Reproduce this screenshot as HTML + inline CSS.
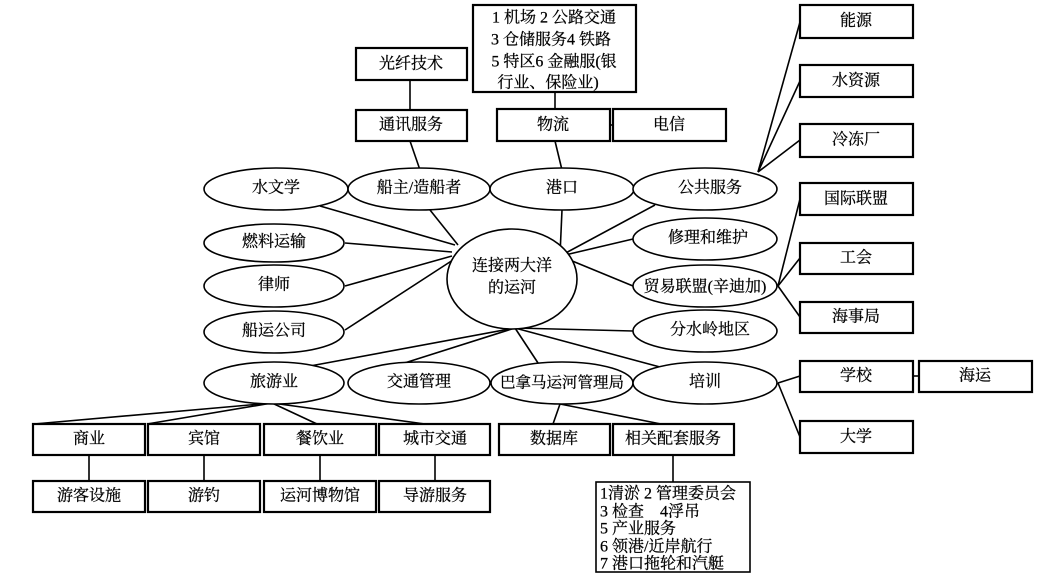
<!DOCTYPE html>
<html><head><meta charset="utf-8"><style>
html,body{margin:0;padding:0;background:#fff;}
svg{display:block;}
text{font-family:"Liberation Serif","Noto Serif CJK SC",serif;font-size:16px;fill:#000;text-anchor:middle;dominant-baseline:central;stroke:#000;stroke-width:0.25px;}
</style></head><body>
<svg width="1048" height="581" viewBox="0 0 1048 581" xmlns="http://www.w3.org/2000/svg">
<g stroke="#000" stroke-width="1.6" fill="none">
<line x1="410" y1="80" x2="410" y2="110"/>
<line x1="410" y1="141" x2="420" y2="170"/>
<line x1="555" y1="92" x2="555" y2="109"/>
<line x1="555" y1="141" x2="562" y2="170"/>
<line x1="610" y1="125" x2="613" y2="125"/>
<line x1="320" y1="206" x2="455" y2="245"/>
<line x1="430" y1="210" x2="458" y2="245"/>
<line x1="562" y1="210" x2="560" y2="255"/>
<line x1="655" y1="205" x2="562" y2="255"/>
<line x1="345" y1="243" x2="452" y2="252"/>
<line x1="345" y1="286" x2="452" y2="256"/>
<line x1="345" y1="330" x2="456" y2="258"/>
<line x1="633" y1="239" x2="565" y2="255"/>
<line x1="633" y1="286" x2="565" y2="258"/>
<line x1="633" y1="331" x2="515" y2="328"/>
<line x1="310" y1="366" x2="515" y2="328"/>
<line x1="395" y1="366" x2="515" y2="328"/>
<line x1="540" y1="366" x2="515" y2="328"/>
<line x1="660" y1="367" x2="515" y2="328"/>
<line x1="758" y1="172" x2="800" y2="22"/>
<line x1="758" y1="172" x2="800" y2="81"/>
<line x1="758" y1="172" x2="800" y2="140"/>
<line x1="778" y1="286" x2="800" y2="199"/>
<line x1="778" y1="286" x2="800" y2="258"/>
<line x1="778" y1="286" x2="800" y2="317"/>
<line x1="778" y1="383" x2="800" y2="376"/>
<line x1="778" y1="383" x2="800" y2="437"/>
<line x1="913" y1="376" x2="919" y2="376"/>
<line x1="272" y1="403" x2="34" y2="424"/>
<line x1="272" y1="403" x2="147" y2="424"/>
<line x1="272" y1="403" x2="317" y2="424"/>
<line x1="272" y1="403" x2="425" y2="424"/>
<line x1="560" y1="404" x2="553" y2="424"/>
<line x1="560" y1="404" x2="661" y2="424"/>
<line x1="89" y1="455" x2="89" y2="481"/>
<line x1="204" y1="455" x2="204" y2="481"/>
<line x1="320" y1="455" x2="320" y2="481"/>
<line x1="435" y1="455" x2="435" y2="481"/>
<line x1="673" y1="455" x2="673" y2="482"/>
</g>
<g stroke="#000" stroke-width="2.2" fill="#fff">
<rect x="473" y="5" width="163" height="87"/>
<rect x="356" y="48" width="111" height="32"/>
<rect x="356" y="110" width="111" height="31"/>
<rect x="497" y="109" width="113" height="32"/>
<rect x="613" y="109" width="113" height="32"/>
<rect x="800" y="5" width="113" height="33"/>
<rect x="800" y="65" width="113" height="32"/>
<rect x="800" y="124" width="113" height="33"/>
<rect x="800" y="183" width="113" height="32"/>
<rect x="800" y="243" width="113" height="31"/>
<rect x="800" y="302" width="113" height="31"/>
<rect x="800" y="361" width="113" height="31"/>
<rect x="919" y="361" width="113" height="31"/>
<rect x="800" y="421" width="113" height="32"/>
<rect x="33" y="424" width="112" height="31"/>
<rect x="148" y="424" width="112" height="31"/>
<rect x="264" y="424" width="112" height="31"/>
<rect x="379" y="424" width="111" height="31"/>
<rect x="499" y="424" width="111" height="31"/>
<rect x="613" y="424" width="121" height="31"/>
<rect x="33" y="481" width="112" height="31"/>
<rect x="148" y="481" width="112" height="31"/>
<rect x="264" y="481" width="112" height="31"/>
<rect x="379" y="481" width="111" height="31"/>
<rect x="596" y="482" width="154" height="90" stroke-width="1.6"/>
</g>
<g stroke="#000" stroke-width="1.6" fill="#fff">
<ellipse cx="276" cy="189" rx="72" ry="21"/>
<ellipse cx="419" cy="189" rx="71" ry="21"/>
<ellipse cx="562" cy="189" rx="72" ry="21"/>
<ellipse cx="705" cy="189" rx="72" ry="21"/>
<ellipse cx="274" cy="243" rx="70" ry="19"/>
<ellipse cx="274" cy="286" rx="70" ry="21"/>
<ellipse cx="274" cy="332" rx="70" ry="21"/>
<ellipse cx="705" cy="239" rx="72" ry="21"/>
<ellipse cx="705" cy="286" rx="72" ry="21"/>
<ellipse cx="705" cy="331" rx="72" ry="21"/>
<ellipse cx="274" cy="383" rx="70" ry="21"/>
<ellipse cx="419" cy="383" rx="71" ry="21"/>
<ellipse cx="562" cy="383" rx="71" ry="21"/>
<ellipse cx="705" cy="383" rx="72" ry="21"/>
<ellipse cx="512" cy="279" rx="65" ry="50"/>
</g>
<g>
<text x="554" y="18">1 机场 2 公路交通</text>
<text x="551" y="40">3 仓储服务4 铁路</text>
<text x="554" y="62">5 特区6 金融服(银</text>
<text x="548" y="83">行业、保险业)</text>
<text x="411" y="64">光纤技术</text>
<text x="411" y="125">通讯服务</text>
<text x="553" y="125">物流</text>
<text x="669" y="125">电信</text>
<text x="856" y="21">能源</text>
<text x="856" y="81">水资源</text>
<text x="856" y="140">冷冻厂</text>
<text x="856" y="199">国际联盟</text>
<text x="856" y="258">工会</text>
<text x="856" y="317">海事局</text>
<text x="856" y="376">学校</text>
<text x="975" y="376">海运</text>
<text x="856" y="437">大学</text>
<text x="276" y="188">水文学</text>
<text x="419" y="188">船主/造船者</text>
<text x="562" y="188">港口</text>
<text x="710" y="188">公共服务</text>
<text x="274" y="242">燃料运输</text>
<text x="274" y="285">律师</text>
<text x="274" y="331">船运公司</text>
<text x="708" y="238">修理和维护</text>
<text x="705" y="287">贸易联盟(辛迪加)</text>
<text x="710" y="330">分水岭地区</text>
<text x="274" y="382">旅游业</text>
<text x="419" y="382">交通管理</text>
<text x="562" y="383" style="font-size:15.5px">巴拿马运河管理局</text>
<text x="705" y="382">培训</text>
<text x="512" y="266">连接两大洋</text>
<text x="512" y="288">的运河</text>
<text x="89" y="439">商业</text>
<text x="204" y="439">宾馆</text>
<text x="320" y="439">餐饮业</text>
<text x="435" y="439">城市交通</text>
<text x="554" y="439">数据库</text>
<text x="673" y="439">相关配套服务</text>
<text x="89" y="496">游客设施</text>
<text x="204" y="496">游钓</text>
<text x="320" y="496">运河博物馆</text>
<text x="435" y="496">导游服务</text>
<text x="600" y="494" style="text-anchor:start">1清淤 2 管理委员会</text>
<text x="600" y="512" style="text-anchor:start">3 检查　4浮吊</text>
<text x="600" y="529" style="text-anchor:start">5 产业服务</text>
<text x="600" y="547" style="text-anchor:start">6 领港/近岸航行</text>
<text x="600" y="564" style="text-anchor:start">7 港口拖轮和汽艇</text>
</g>
</svg>
</body></html>
